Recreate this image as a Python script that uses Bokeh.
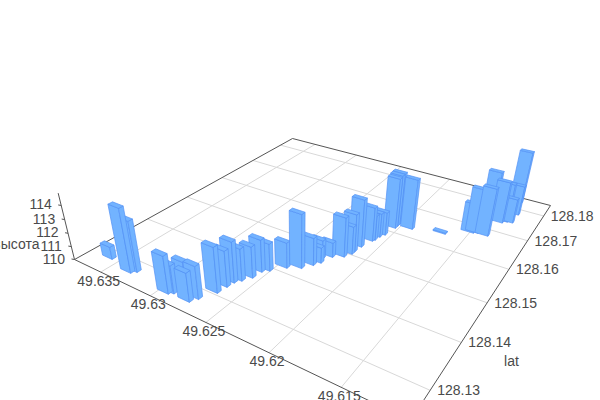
import numpy as np
from bokeh.plotting import figure
from bokeh.embed import file_html
from bokeh.resources import INLINE
from bokeh.core.properties import value

lon = [49.6362,49.6337,49.6334,49.6297,49.6294,49.6290,49.6279,49.6276,49.6270,49.6269,49.6268,49.6265,49.6261,49.6260,
       49.6256,49.6248,49.6239,49.6234,49.6233,49.6231,49.6228,49.6221,49.6218,49.6218,49.6217,49.6214,49.6213,49.6212,49.6210,49.6208,
       49.6208,49.6208,49.6196,49.6171,49.6136,49.6132,49.6132,49.6147,49.6139,49.6136,49.6150,49.6142,49.6153]
lat = [128.1285,128.1275,128.1282,128.1269,128.1274,128.1290,128.1272,128.1284,128.1310,128.1329,128.1343,128.1353,128.1368,128.1388,
       128.1397,128.1418,128.1430,128.1447,128.1470,128.1459,128.1483,128.1494,128.1516,128.1508,128.1535,128.1561,128.1566,128.1579,128.1590,128.1620,
       128.1629,128.1637,128.1633,128.1649,128.1832,128.1784,128.1750,128.1741,128.1740,128.1748,128.1683,128.1683,128.1679]
height = [110.93,114.66,113.72,112.72,112.03,112.04,112.08,112.36,113.27,112.61,112.97,112.35,112.29,112.38,
          112.02,111.89,113.95,112.04,111.39,111.15,111.09,112.95,112.83,112.08,113.58,112.58,111.89,111.83,111.76,113.85,
          113.94,113.96,113.85,110.08,114.13,112.31,111.88,113.76,113.21,112.98,113.37,113.65,112.23]
lon_ticks = [49.635,49.63,49.625,49.62,49.615]
lat_ticks = [128.13,128.14,128.15,128.16,128.17,128.18]
height_ticks = [110,111,112,113,114]

LON0,LON1,LAT0,LAT1 = 49.6379,49.6108,128.1246,128.1847
Z0,Z1 = 110.0,114.85
OFF,BAR_LON,BAR_LAT = 0.0006,0.00105,0.00085
A,D,C,B = (74,259),(410,420),(550,205),(292,138)
VX,VY,K = 298.0,1170.0,-0.014

rows=[];rhs=[]
for (u,v),(x,y) in zip([(0,0),(1,0),(1,1),(0,1)],[A,D,C,B]):
    rows.append([u,v,1,0,0,0,-u*x,-v*x]);rhs.append(x)
    rows.append([0,0,0,u,v,1,-u*y,-v*y]);rhs.append(y)
h = np.linalg.solve(np.array(rows,float),np.array(rhs,float))
H = np.array([[h[0],h[1],h[2]],[h[3],h[4],h[5]],[h[6],h[7],1.0]])

def floor(lo,la):
    return H@np.array([(lo-LON0)/(LON1-LON0),(la-LAT0)/(LAT1-LAT0),1.0])
def proj(lo,la,z=Z0):
    a=floor(lo,la); q=K*(z-Z0)
    return (a[0]+q*VX)/(a[2]+q),(a[1]+q*VY)/(a[2]+q)

p = figure(width=600,height=400,x_range=(0,600),y_range=(400,0),output_backend="svg",toolbar_location=None,
           min_border=0,x_axis_location=None,y_axis_location=None,outline_line_color=None,
           background_fill_color="white",border_fill_color="white")
p.grid.visible=False

gx=[];gy=[]
for t in lon_ticks:
    a=proj(t,LAT0);b=proj(t,LAT1);gx.append([a[0],b[0]]);gy.append([a[1],b[1]])
for t in lat_ticks:
    a=proj(LON0,t);b=proj(LON1,t);gx.append([a[0],b[0]]);gy.append([a[1],b[1]])
p.multi_line(gx,gy,line_color="#d8d8d8",line_width=1)

ex=[];ey=[]
for a,b in [(A,B),(B,C),(C,D),(D,A)]:
    ex.append([a[0],b[0]]);ey.append([a[1],b[1]])
t0=proj(LON0,LAT0,Z0);t1=proj(LON0,LAT0,Z1)
ex.append([t0[0],t1[0]]);ey.append([t0[1],t1[1]])
for t in height_ticks:
    a=proj(LON0,LAT0,t);ex.append([a[0],a[0]-3]);ey.append([a[1],a[1]-0.5])
p.multi_line(ex,ey,line_color="#555555",line_width=1)

order=sorted(range(len(lon)),key=lambda i:-floor(lon[i],lat[i])[2])
fx=[];fy=[]
for i in order:
    l0=lon[i]-OFF;l1=l0+BAR_LON
    a0=lat[i]-OFF;a1=a0+BAR_LAT
    z=height[i]
    for poly in ([(l1,a0,Z0),(l0,a0,Z0),(l0,a0,z),(l1,a0,z)],
                 [(l0,a0,Z0),(l0,a1,Z0),(l0,a1,z),(l0,a0,z)],
                 [(l1,a0,z),(l0,a0,z),(l0,a1,z),(l1,a1,z)]):
        pts=[proj(*c) for c in poly]
        fx.append([q[0] for q in pts]);fy.append([q[1] for q in pts])
p.patches(fx,fy,fill_color="#72b3ff",line_color="#5592f5",line_width=0.7)

font=value("Liberation Sans")
def labels(xs,ys,txt,align):
    p.text(xs,ys,text=txt,text_font=font,text_font_size="14px",text_color="#4a4a4a",text_align=align,text_baseline="middle")
pts=[proj(t,LAT0) for t in lon_ticks]
labels([q[0]-2 for q in pts],[q[1]+8.5 for q in pts],[str(t) for t in lon_ticks],"center")
pts=[proj(LON1,t) for t in lat_ticks]
labels([q[0]+7 for q in pts],[q[1] for q in pts],[str(t) for t in lat_ticks],"left")
pts=[proj(LON0,LAT0,t) for t in height_ticks]
labels([q[0]-9.5 for q in pts],[q[1]-1 for q in pts],[str(t) for t in height_ticks],"right")
labels([511],[360],["lat"],"center")
labels([39],[243],["высота"],"right")

open("out.html","w").write(file_html(p,INLINE))
